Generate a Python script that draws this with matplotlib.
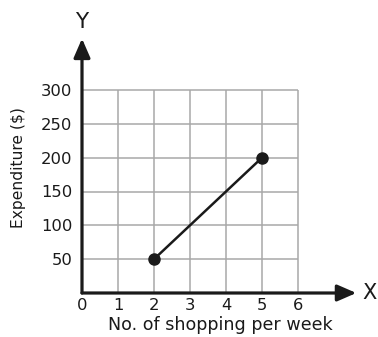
import matplotlib
matplotlib.use("Agg")
import matplotlib.pyplot as plt

plt.rcParams['font.family'] = ['DejaVu Sans']

# Shopping trips per week vs. weekly expenditure
shopping = [2, 5]
expenditure = [50, 200]

x_ticks = [0, 1, 2, 3, 4, 5, 6]
y_ticks = [50, 100, 150, 200, 250, 300]

ink = '#1a1a1a'

fig = plt.figure(figsize=(3.78, 3.37), dpi=100)
ax = fig.add_axes([82 / 378, 44 / 337, 216 / 378, 203 / 337])
ax.set_xlim(0, 6)
ax.set_ylim(0, 300)

for s in ax.spines.values():
    s.set_visible(False)

# grid confined to the plotting square
grid_c = '#a8a8a8'
ax.vlines(x_ticks[1:], 0, 300, color=grid_c, lw=1.1, clip_on=False, zorder=1)
ax.hlines(y_ticks, 0, 6, color=grid_c, lw=1.1, clip_on=False, zorder=1)

# axes with arrowheads
arrow = dict(arrowstyle='-|>,head_length=1.15,head_width=0.5',
             color=ink, lw=2.3, shrinkA=0, shrinkB=0)
ax.annotate('', xy=(7.62, 0), xytext=(0, 0), arrowprops=arrow,
            annotation_clip=False, zorder=3)
ax.annotate('', xy=(0, 376), xytext=(0, 0), arrowprops=arrow,
            annotation_clip=False, zorder=3)
ax.text(8.18, 0, 'X', fontsize=15, ha='right', va='center', color=ink)
ax.text(0, 400, 'Y', fontsize=15.5, ha='center', va='center', color=ink)

ax.plot(shopping, expenditure, color=ink, lw=1.8,
        marker='o', markersize=8, zorder=4, clip_on=False)

ax.set_xticks(x_ticks)
ax.set_xticklabels([str(v) for v in x_ticks])
ax.set_yticks(y_ticks)
ax.set_yticklabels([str(v) for v in y_ticks])
ax.tick_params(axis='both', length=0, labelsize=11.8, colors=ink)
ax.tick_params(axis='x', pad=3.5)
ax.tick_params(axis='y', pad=7)

ax.text(0.639, -0.158, 'No. of shopping per week', transform=ax.transAxes,
        fontsize=12.6, ha='center', va='center', color=ink)
ax.text(-0.296, 0.616, 'Expenditure ($)', transform=ax.transAxes,
        fontsize=11.2, ha='center', va='center', rotation=90, color=ink)

fig.savefig('out.png', dpi=100)
